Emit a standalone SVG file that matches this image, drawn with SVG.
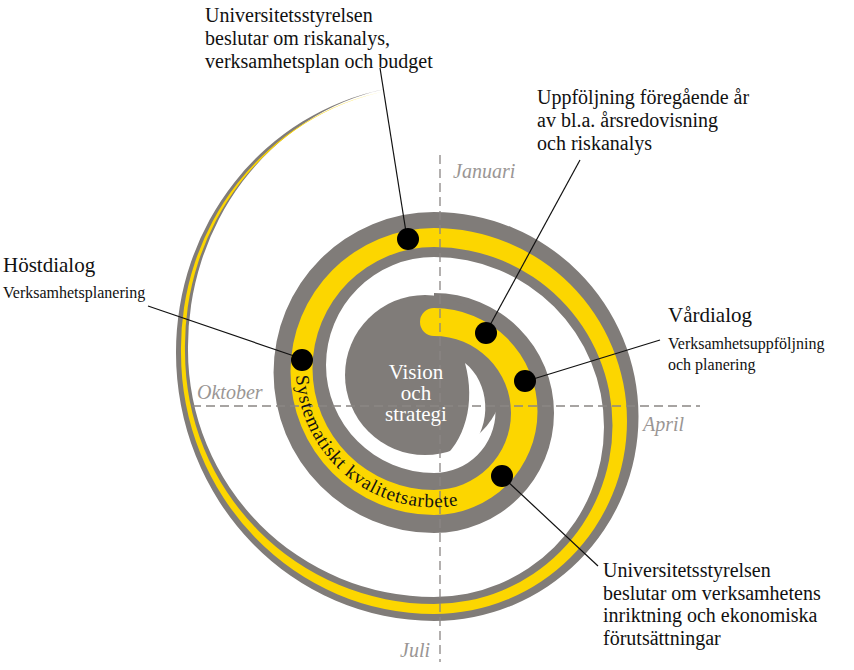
<svg xmlns="http://www.w3.org/2000/svg" width="854" height="670" viewBox="0 0 854 670">
<defs>
<style>
.t{font-family:"Liberation Serif","DejaVu Serif",serif;fill:#111}
.m{font-family:"Liberation Serif",serif;font-style:italic;fill:#9a9694;font-size:20px}
.ax{stroke:#8a8684;stroke-width:1.3;stroke-dasharray:9 5;fill:none}
.ld{stroke:#111;stroke-width:1.2;fill:none}
.dot{fill:#000}
</style>
<path id="tp" d="M296,369.5 A138,138 0 0 0 481,499"/>
</defs>
<rect width="854" height="670" fill="#fff"/>
<g id="spiral">
<path fill="#807c79" d="M434,293 A120,120 0 0 1 434,533 A160.5,160.5 0 0 1 434,212 A204.5,204.5 0 0 1 434,621 A258,268 0 0 1 176,353 A258,268 0 0 1 385,89 A246,263 0 0 0 188,350 A246,247 0 0 0 434,597 A170,170 0 0 0 434,257 A108,108 0 0 0 434,473 A61.5,61.5 0 0 0 434,350 Z"/>
<circle cx="425" cy="375" r="80" fill="#807c79"/>
<path fill="#fff" d="M465,363 C489,382 494,424 468,451 L450,467 L439,462 C465,442 476,403 465,363 Z"/>
<path fill="#fcd600" d="M434,308 A103.5,103.5 0 0 1 434,515 A143.5,143.5 0 0 1 434,228 A193,193 0 0 1 434,614 A253,261 0 0 1 181,353 A253,262 0 0 1 386,91 A249,260 0 0 0 185,352 A249,252 0 0 0 434,604 A178.5,178.5 0 0 0 434,247 A121.5,121.5 0 0 0 434,490 A77,77 0 0 0 434,336 A14,14 0 0 1 434,308 Z"/>
</g>
<g id="axes">
<line class="ax" x1="440" y1="155" x2="440" y2="662"/>
<line class="ax" x1="192" y1="406" x2="700" y2="406"/>
<text class="m" x="453" y="178">Januari</text>
<text class="m" x="197" y="399">Oktober</text>
<text class="m" x="643" y="431">April</text>
<text class="m" x="400" y="657">Juli</text>
</g>
<g id="center">
<text class="t" style="fill:#fff" font-size="21" text-anchor="middle"><tspan x="416" y="379">Vision</tspan><tspan x="416" y="400">och</tspan><tspan x="416" y="421">strategi</tspan></text>
</g>
<text class="t" font-size="19" letter-spacing="0.8"><textPath href="#tp" startOffset="6">Systematiskt kvalitetsarbete</textPath></text>
<g id="connectors">
<line class="ld" x1="380" y1="68" x2="406" y2="232"/>
<line class="ld" x1="580" y1="160" x2="489" y2="327"/>
<line class="ld" x1="660" y1="340" x2="530" y2="380"/>
<line class="ld" x1="505" y1="479" x2="598" y2="566"/>
<line class="ld" x1="148" y1="306" x2="300" y2="358"/>
</g>
<g id="n-top"><circle class="dot" cx="408" cy="239" r="11"/>
<text class="t" font-size="20"><tspan x="205" y="22">Universitetsstyrelsen</tspan><tspan x="205" y="45">beslutar om riskanalys,</tspan><tspan x="205" y="68">verksamhetsplan och budget</tspan></text></g>
<g id="n-uppf"><circle class="dot" cx="486" cy="333" r="11"/>
<text class="t" font-size="20"><tspan x="537" y="104">Uppföljning föregående år</tspan><tspan x="537" y="127">av bl.a. årsredovisning</tspan><tspan x="537" y="150">och riskanalys</tspan></text></g>
<g id="n-var"><circle class="dot" cx="525" cy="381" r="11"/>
<text class="t" font-size="21" x="668" y="322">Vårdialog</text>
<text class="t" font-size="16"><tspan x="668" y="349">Verksamhetsuppföljning</tspan><tspan x="668" y="370">och planering</tspan></text></g>
<g id="n-bot"><circle class="dot" cx="502" cy="476" r="11"/>
<text class="t" font-size="20"><tspan x="603" y="577">Universitetsstyrelsen</tspan><tspan x="603" y="600">beslutar om verksamhetens</tspan><tspan x="603" y="622">inriktning och ekonomiska</tspan><tspan x="603" y="645">förutsättningar</tspan></text></g>
<g id="n-host"><circle class="dot" cx="302" cy="360" r="11"/>
<text class="t" font-size="21" x="3" y="272">Höstdialog</text>
<text class="t" font-size="16" x="3" y="298">Verksamhetsplanering</text></g>
</svg>
